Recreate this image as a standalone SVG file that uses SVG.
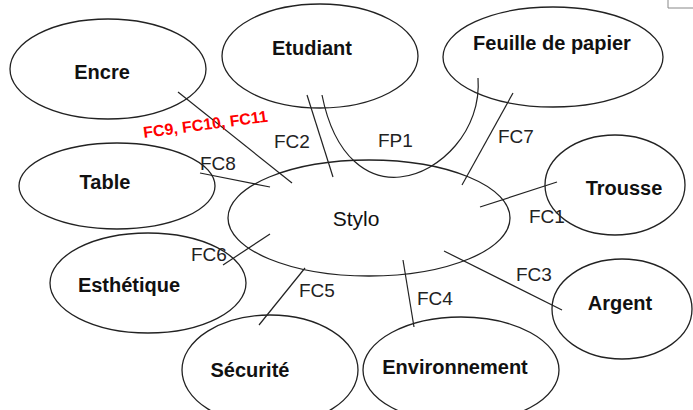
<svg xmlns="http://www.w3.org/2000/svg" width="693" height="410" viewBox="0 0 693 410">
<style>
.n ellipse{fill:none;stroke:#222;stroke-width:1.3}
.n text{font-family:"Liberation Sans",Arial,sans-serif;font-weight:bold;font-size:20px;fill:#111;text-anchor:middle}
.c line,.c path{stroke:#222;stroke-width:1.2;fill:none}
.l{font-family:"Liberation Sans",Arial,sans-serif;font-size:19px;fill:#222}
.r{font-family:"Liberation Sans",Arial,sans-serif;font-size:16px;font-weight:bold;fill:#ff0000}
</style>
<rect width="693" height="410" fill="#fff"/>
<path d="M668,0 V8 H693" fill="none" stroke="#888" stroke-width="1"/>
<g class="c" id="connectors">
<line x1="178" y1="92" x2="292" y2="183"/>
<line x1="200" y1="173" x2="270" y2="187"/>
<line x1="307" y1="95" x2="333" y2="177"/>
<path d="M322,95 C335,160 370,180 400,177 C440,173 482,130 478,78"/>
<line x1="513" y1="93" x2="462" y2="185"/>
<line x1="557" y1="182" x2="480" y2="207"/>
<line x1="444" y1="251" x2="562" y2="310"/>
<line x1="403" y1="260" x2="414" y2="327"/>
<line x1="305" y1="268" x2="259" y2="325"/>
<line x1="270" y1="234" x2="223" y2="265"/>
</g>
<g class="n" id="encre"><ellipse cx="108" cy="69" rx="98" ry="50"/><text x="102" y="79">Encre</text></g>
<g class="n" id="etudiant"><ellipse cx="320" cy="56" rx="98" ry="52"/><text x="312" y="55">Etudiant</text></g>
<g class="n" id="feuille"><ellipse cx="553" cy="57" rx="110" ry="50"/><text x="552" y="50">Feuille de papier</text></g>
<g class="n" id="table"><ellipse cx="117" cy="186" rx="98" ry="43"/><text x="105" y="189">Table</text></g>
<g class="n" id="stylo"><ellipse cx="369" cy="218" rx="141" ry="58"/><text x="356" y="226" style="font-weight:normal;font-size:21px">Stylo</text></g>
<g class="n" id="trousse"><ellipse cx="615" cy="185" rx="70" ry="50"/><text x="624" y="195">Trousse</text></g>
<g class="n" id="esthetique"><ellipse cx="148" cy="283" rx="98" ry="50"/><text x="129" y="292">Esthétique</text></g>
<g class="n" id="argent"><ellipse cx="622" cy="309" rx="70" ry="50"/><text x="620" y="310">Argent</text></g>
<g class="n" id="securite"><ellipse cx="270" cy="370" rx="88" ry="55"/><text x="250" y="377">Sécurité</text></g>
<g class="n" id="environnement"><ellipse cx="461" cy="370" rx="98" ry="53"/><text x="455" y="374">Environnement</text></g>
<g id="labels">
<text class="r" transform="translate(144,138) rotate(-7.5)">FC9, FC10, FC11</text>
<text class="l" x="274" y="148">FC2</text>
<text class="l" x="200" y="170">FC8</text>
<text class="l" x="378" y="147">FP1</text>
<text class="l" x="498" y="143">FC7</text>
<text class="l" x="529" y="223">FC1</text>
<text class="l" x="516" y="281">FC3</text>
<text class="l" x="417" y="305">FC4</text>
<text class="l" x="299" y="297">FC5</text>
<text class="l" x="191" y="261">FC6</text>
</g>
</svg>
